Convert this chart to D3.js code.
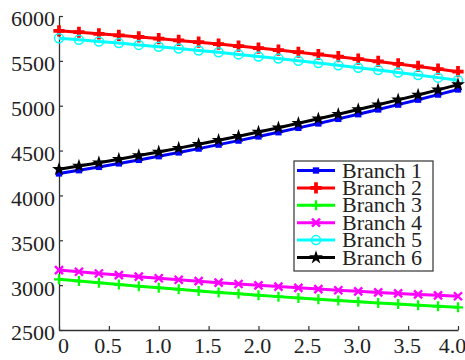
<!DOCTYPE html>
<html>
<head>
<meta charset="utf-8">
<script src="https://cdn.jsdelivr.net/npm/d3@7"></script>
<style>html, body { margin: 0; padding: 0; background: #fff; }</style>
</head>
<body>
<div id="chart"></div>
<script>
// data
const xValues = [0, 0.2, 0.4, 0.6, 0.8, 1.0, 1.2, 1.4, 1.6, 1.8, 2.0, 2.2, 2.4, 2.6, 2.8, 3.0, 3.2, 3.4, 3.6, 3.8, 4.0];
const branch1 = [4245, 4281, 4318, 4357, 4396, 4437, 4479, 4522, 4566, 4611, 4657, 4704, 4753, 4802, 4853, 4905, 4958, 5012, 5067, 5124, 5181];
const branch2 = [5835, 5819, 5802, 5785, 5767, 5748, 5728, 5708, 5687, 5665, 5643, 5620, 5596, 5571, 5546, 5520, 5493, 5466, 5438, 5409, 5379];
const branch3 = [3065, 3045, 3026, 3007, 2989, 2971, 2953, 2936, 2919, 2903, 2887, 2872, 2857, 2842, 2828, 2815, 2801, 2789, 2776, 2764, 2753];
const branch4 = [3168, 3149, 3130, 3112, 3094, 3077, 3060, 3044, 3028, 3013, 2998, 2984, 2970, 2956, 2943, 2931, 2919, 2908, 2897, 2886, 2876];
const branch5 = [5752, 5734, 5716, 5698, 5678, 5658, 5638, 5616, 5595, 5572, 5549, 5525, 5501, 5476, 5450, 5424, 5397, 5370, 5342, 5313, 5284];
const branch6 = [4291, 4328, 4365, 4404, 4444, 4485, 4527, 4570, 4615, 4660, 4707, 4755, 4804, 4854, 4905, 4957, 5010, 5065, 5120, 5177, 5235];

const seriesNames = ['Branch 1', 'Branch 2', 'Branch 3', 'Branch 4', 'Branch 5', 'Branch 6'];
const seriesValues = [branch1, branch2, branch3, branch4, branch5, branch6];
const seriesColors = ['#0000ff', '#ff0000', '#00ff00', '#ff00ff', '#00ffff', '#000000'];
const seriesMarkers = ['square', 'cross', 'plus', 'x', 'circle', 'star'];

const xTicks = [0, 0.5, 1.0, 1.5, 2.0, 2.5, 3.0, 3.5, 4.0];
const yTicks = [2500, 3000, 3500, 4000, 4500, 5000, 5500, 6000];

const width = 465, height = 360;
const margin = { top: 16, right: 7, bottom: 30, left: 59 };
const FONT = 'Liberation Serif';
const FSIZE = 22;

const svg = d3.select('#chart').append('svg')
  .attr('width', width)
  .attr('height', height);

const x = d3.scaleLinear().domain([0, 4]).range([margin.left, width - margin.right]);
const y = d3.scaleLinear().domain([2500, 6000]).range([height - margin.bottom, margin.top]);

function serif(sel) {
  sel.attr('font-family', FONT).attr('font-size', FSIZE)
    .style('font-family', FONT).style('font-size', FSIZE + 'px');
}

// axes, ticks pointing inward
const axisColor = '#333';
const xAxis = svg.append('g')
  .attr('transform', `translate(0,${y(2500)})`)
  .call(d3.axisBottom(x).tickValues(xTicks).tickSizeInner(-4).tickSizeOuter(0)
    .tickFormat(d => d === 0 ? '0' : d3.format('.1f')(d)));
serif(xAxis);
xAxis.select('.domain').attr('stroke', axisColor).attr('stroke-width', 1.3);
xAxis.selectAll('.tick line').attr('stroke', axisColor).attr('stroke-width', 1.2);
// first and last labels are nudged inward like in the original figure
xAxis.selectAll('.tick text')
  .attr('y', 7)
  .attr('dx', d => d === 0 ? 4 : d === 4 ? -6 : -1.5)
  .attr('fill', '#222')
  .call(serif);

const yAxis = svg.append('g')
  .attr('transform', `translate(${x(0)},0)`)
  .call(d3.axisLeft(y).tickValues(yTicks).tickSizeInner(-4).tickSizeOuter(0).tickFormat(d3.format('d')));
serif(yAxis);
yAxis.select('.domain').attr('stroke', axisColor).attr('stroke-width', 1.3);
yAxis.selectAll('.tick line').attr('stroke', axisColor).attr('stroke-width', 1.2);
yAxis.selectAll('.tick text')
  .attr('x', -4)
  .attr('dy', '0.45em')
  .attr('fill', '#222')
  .call(serif);

// marker drawing
function drawMarker(g, kind, color) {
  if (kind === 'square') {
    g.append('path').attr('d', d3.symbol(d3.symbolSquare, 40)()).attr('fill', color);
  } else if (kind === 'cross') {
    g.append('path').attr('d', d3.symbol(d3.symbolCross, 70)()).attr('fill', color);
  } else if (kind === 'star') {
    g.append('path').attr('d', d3.symbol(d3.symbolStar, 60)()).attr('fill', color);
  } else if (kind === 'circle') {
    g.append('circle').attr('r', 4.5).attr('fill', 'none').attr('stroke', color).attr('stroke-width', 1.5);
  } else if (kind === 'plus') {
    g.append('path').attr('d', 'M-5,0H5M0,-5V5').attr('stroke', color).attr('stroke-width', 2.2);
  } else if (kind === 'x') {
    g.append('path').attr('d', 'M-4,-4L4,4M-4,4L4,-4').attr('stroke', color).attr('stroke-width', 2.4);
  }
}

const line = d3.line().x((d, i) => x(xValues[i])).y(d => y(d));

seriesValues.forEach((vals, k) => {
  const g = svg.append('g');
  g.append('path')
    .datum(vals)
    .attr('d', line)
    .attr('fill', 'none')
    .attr('stroke', seriesColors[k])
    .attr('stroke-width', 3);
  vals.forEach((v, i) => {
    const m = g.append('g').attr('transform', `translate(${x(xValues[i])},${y(v)})`);
    drawMarker(m, seriesMarkers[k], seriesColors[k]);
  });
});

// legend
const legend = svg.append('g').attr('transform', 'translate(294,161)');
legend.append('rect')
  .attr('width', 139).attr('height', 110)
  .attr('fill', '#fff').attr('stroke', '#333').attr('stroke-width', 1.2);
seriesNames.forEach((name, k) => {
  const ly = 9.5 + k * 17.4;
  legend.append('line')
    .attr('x1', 3).attr('x2', 41).attr('y1', ly).attr('y2', ly)
    .attr('stroke', seriesColors[k]).attr('stroke-width', 3);
  const m = legend.append('g').attr('transform', `translate(22,${ly})`);
  drawMarker(m, seriesMarkers[k], seriesColors[k]);
  legend.append('text')
    .attr('x', 48).attr('y', ly + 7)
    .attr('fill', '#222')
    .call(serif)
    .text(name);
});
</script>
</body>
</html>
